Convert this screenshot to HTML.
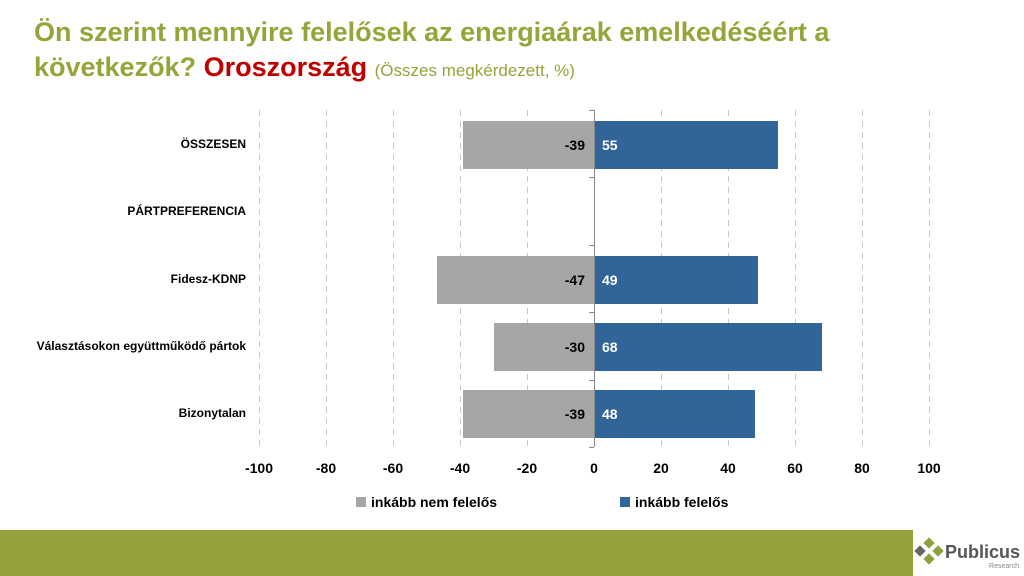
<!DOCTYPE html>
<html><head><meta charset="utf-8"><style>
body{margin:0;width:1024px;height:576px;background:#fff;overflow:hidden;position:relative;font-family:"Liberation Sans",sans-serif}
.t{position:absolute;left:34px;top:15px;font-size:27px;font-weight:bold;color:#94a53a;line-height:35px}
</style></head><body>
<div class="t">Ön szerint mennyire felelősek az energiaárak emelkedéséért a<br>következők? <span style="color:#c00000">Oroszország</span> <span style="font-size:17px;font-weight:normal">(Összes megkérdezett, %)</span></div>
<svg width="1024" height="576" style="position:absolute;left:0;top:0" font-family="Liberation Sans, sans-serif">
<g stroke="#c8c8c8" stroke-dasharray="6,5" stroke-width="1">
<line x1="259.5" y1="110" x2="259.5" y2="447"/><line x1="326.5" y1="110" x2="326.5" y2="447"/><line x1="393.5" y1="110" x2="393.5" y2="447"/><line x1="460.5" y1="110" x2="460.5" y2="447"/><line x1="527.5" y1="110" x2="527.5" y2="447"/><line x1="661.5" y1="110" x2="661.5" y2="447"/><line x1="728.5" y1="110" x2="728.5" y2="447"/><line x1="795.5" y1="110" x2="795.5" y2="447"/><line x1="862.5" y1="110" x2="862.5" y2="447"/><line x1="929.5" y1="110" x2="929.5" y2="447"/>
</g>
<g>
<rect x="463" y="121" width="131" height="48" fill="#a6a6a6"/><rect x="594" y="121" width="184" height="48" fill="#31659a"/>
<rect x="437" y="256" width="157" height="48" fill="#a6a6a6"/><rect x="594" y="256" width="164" height="48" fill="#31659a"/>
<rect x="494" y="323" width="100" height="48" fill="#a6a6a6"/><rect x="594" y="323" width="228" height="48" fill="#31659a"/>
<rect x="463" y="390" width="131" height="48" fill="#a6a6a6"/><rect x="594" y="390" width="161" height="48" fill="#31659a"/>
</g>
<g stroke="#888" stroke-width="1">
<line x1="594.5" y1="110" x2="594.5" y2="447"/>
<line x1="589" y1="110.5" x2="594" y2="110.5"/><line x1="589" y1="177.5" x2="594" y2="177.5"/><line x1="589" y1="245.5" x2="594" y2="245.5"/><line x1="589" y1="312.5" x2="594" y2="312.5"/><line x1="589" y1="380.5" x2="594" y2="380.5"/><line x1="589" y1="447.5" x2="594" y2="447.5"/>
</g>
<g font-size="14" font-weight="bold">
<text x="585" y="150" text-anchor="end">-39</text><text x="602" y="150" fill="#fff">55</text>
<text x="585" y="285" text-anchor="end">-47</text><text x="602" y="285" fill="#fff">49</text>
<text x="585" y="352" text-anchor="end">-30</text><text x="602" y="352" fill="#fff">68</text>
<text x="585" y="419" text-anchor="end">-39</text><text x="602" y="419" fill="#fff">48</text>
</g>
<g font-size="12" font-weight="bold" text-anchor="end">
<text x="246" y="148">ÖSSZESEN</text><text x="246" y="215">PÁRTPREFERENCIA</text><text x="246" y="283">Fidesz-KDNP</text><text x="246" y="350">Választásokon együttműködő pártok</text><text x="246" y="417">Bizonytalan</text>
</g>
<g font-size="14" font-weight="bold" text-anchor="middle">
<text x="259" y="473">-100</text><text x="326" y="473">-80</text><text x="393" y="473">-60</text><text x="460" y="473">-40</text><text x="527" y="473">-20</text><text x="594" y="473">0</text><text x="661" y="473">20</text><text x="728" y="473">40</text><text x="795" y="473">60</text><text x="862" y="473">80</text><text x="929" y="473">100</text>
</g>
<rect x="356" y="497" width="10" height="10" fill="#a6a6a6"/><text x="371" y="507" font-size="14" font-weight="bold">inkább nem felelős</text>
<rect x="620" y="497" width="10" height="10" fill="#31659a"/><text x="635" y="507" font-size="14" font-weight="bold">inkább felelős</text>
<rect x="0" y="530" width="913" height="46" fill="#95a23c"/>
<g fill="#8aa33a"><rect x="925" y="539" width="8" height="8" transform="rotate(45 929 543)"/><rect x="934" y="547" width="8" height="8" transform="rotate(45 938 551)"/><rect x="925" y="555" width="8" height="8" transform="rotate(45 929 559)"/></g>
<rect x="916" y="547" width="8" height="8" fill="#666" transform="rotate(45 920 551)"/>
<text x="945" y="558" font-size="18" font-weight="bold" fill="#555">Publicus</text>
<text x="1019" y="568" font-size="7" fill="#888" text-anchor="end">Research</text>
</svg>
</body></html>
